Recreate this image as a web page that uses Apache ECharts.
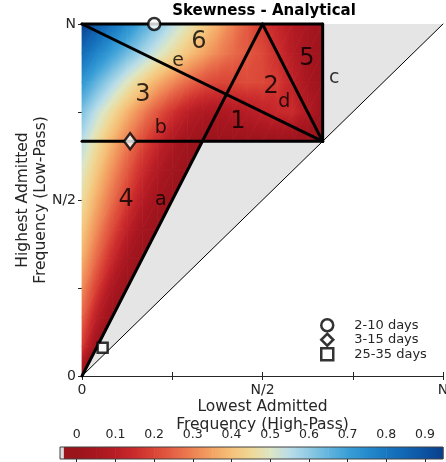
<!DOCTYPE html>
<html>
<head>
<meta charset="utf-8">
<script src="https://cdn.jsdelivr.net/npm/echarts@6/dist/echarts.min.js"></script>
<style>
  html, body { margin: 0; padding: 0; background: #fff; }
  #chart { width: 446px; height: 462px; }
</style>
</head>
<body>
<div id="chart"></div>
<script>
// Skewness sampled along rows of constant highest admitted frequency H (fraction of N).
// Entry k of a row sits at L = k/24. Rows from H = 2N/3 upward run L = 0 .. 2N/3;
// rows below 2N/3 stop on the H = 2L edge.
const skewH100 = [0.946, 0.88, 0.815, 0.75, 0.68, 0.615, 0.55, 0.49, 0.43, 0.37, 0.30, 0.235, 0.18, 0.13, 0.085, 0.045, 0.01];
const skewH092 = [0.83, 0.765, 0.70, 0.635, 0.575, 0.515, 0.46, 0.405, 0.355, 0.305, 0.265, 0.235, 0.205, 0.155, 0.095, 0.045, 0.01];
const skewH083 = [0.72, 0.645, 0.57, 0.495, 0.43, 0.365, 0.31, 0.26, 0.22, 0.20, 0.20, 0.21, 0.205, 0.18, 0.12, 0.05, 0.01];
const skewH075 = [0.62, 0.535, 0.455, 0.375, 0.30, 0.23, 0.165, 0.11, 0.075, 0.065, 0.077, 0.094, 0.118, 0.14, 0.145, 0.085, 0.01];
const skewH067 = [0.55, 0.46, 0.375, 0.29, 0.21, 0.14, 0.075, 0.025, 0, 0, 0.005, 0.005, 0.005, 0.005, 0.005, 0.005, 0];
const skewH058 = [0.50, 0.41, 0.32, 0.235, 0.15, 0.08, 0.025, 0];
const skewH050 = [0.46, 0.36, 0.27, 0.18, 0.095, 0.03, 0];
const skewH042 = [0.415, 0.31, 0.21, 0.115, 0.035, 0];
const skewH033 = [0.37, 0.255, 0.145, 0.048, 0];
const skewH025 = [0.315, 0.185, 0.065, 0];
const skewH017 = [0.255, 0.10, 0];
const skewH008 = [0.18, 0];
const skewH000 = [0];

const lowerRows = [skewH000, skewH008, skewH017, skewH025, skewH033, skewH042, skewH050, skewH058, skewH067];
const upperRows = [skewH067, skewH075, skewH083, skewH092, skewH100];
const colStep = 1 / 24;
const rowStep = 1 / 12;

// Region outlines (L1, H1, L2, H2) in fractions of N
const regionEdges = [
  [0, 0, 0.5, 1],            // a : H = 2L
  [0, 2 / 3, 2 / 3, 2 / 3],  // b
  [2 / 3, 2 / 3, 2 / 3, 1],  // c
  [0.5, 1, 2 / 3, 2 / 3],    // d
  [0, 1, 2 / 3, 2 / 3],      // e
  [0, 1, 2 / 3, 1]
];
const diagonalEdge = [[0, 0, 1, 1]];
const emptyRegion = [[0, 0], [1 / 3, 2 / 3], [2 / 3, 2 / 3], [2 / 3, 1], [1, 1]];

// Filter bands: [L, H]
const band2to10 = [[0.2, 1]];
const band3to15 = [[2 / 15, 2 / 3]];
const band25to35 = [[2 / 35, 0.08]];

const regionNumbers = [[0.324, 0.949, '6'], [0.169, 0.798, '3'], [0.432, 0.722, '1'], [0.524, 0.821, '2'], [0.623, 0.901, '5'], [0.122, 0.5, '4']];
const regionLetters = [[0.266, 0.895, 'e'], [0.218, 0.705, 'b'], [0.56, 0.778, 'd'], [0.699, 0.847, 'c'], [0.218, 0.5, 'a']];

const axisTickNames = ['0', '', 'N/2', '', 'N'];
const colorbarTicks = [0, 0.1, 0.2, 0.3, 0.4, 0.5, 0.6, 0.7, 0.8, 0.9];
const colorbarMin = -0.0432;
const colorbarMax = 0.9465;
const colorbarGrayEnd = -0.034;

const cmapStops = [
  [0.00, '#9b141c'], [0.05, '#a8161f'], [0.10, '#b81d25'], [0.15, '#cb2b2c'],
  [0.20, '#da4536'], [0.25, '#e56245'], [0.30, '#ee8354'], [0.35, '#f3a464'],
  [0.40, '#f5c27a'], [0.45, '#efd896'], [0.50, '#dde6c4'], [0.55, '#b9dde8'],
  [0.60, '#8fcae4'], [0.65, '#62b4de'], [0.70, '#3a9fd6'], [0.75, '#268bcd'],
  [0.80, '#1877c0'], [0.85, '#1165b2'], [0.90, '#0c52a1'], [0.95, '#083d87']
];

const FONT = 'DejaVu Sans';
const INK = '#262626';

function hexRgb(h) {
  return [parseInt(h.slice(1, 3), 16), parseInt(h.slice(3, 5), 16), parseInt(h.slice(5, 7), 16)];
}
const cmapRgb = cmapStops.map(s => [s[0], hexRgb(s[1])]);

function rgbStr(c) {
  return 'rgb(' + c.map(x => Math.round(x)).join(',') + ')';
}
function colorAt(v) {
  if (v <= cmapRgb[0][0]) return rgbStr(cmapRgb[0][1]);
  const last = cmapRgb[cmapRgb.length - 1];
  if (v >= last[0]) return rgbStr(last[1]);
  for (let i = 0; i < cmapRgb.length - 1; i++) {
    const a = cmapRgb[i], b = cmapRgb[i + 1];
    if (v <= b[0]) {
      const t = (v - a[0]) / (b[0] - a[0]);
      return rgbStr(a[1].map((c, j) => c + (b[1][j] - c) * t));
    }
  }
  return rgbStr(last[1]);
}

// Linear shading across one triangle: a global linear gradient along the value gradient.
function triangleFill(p, v) {
  const lo = Math.min(v[0], v[1], v[2]);
  const hi = Math.max(v[0], v[1], v[2]);
  const e1x = p[1][0] - p[0][0], e1y = p[1][1] - p[0][1];
  const e2x = p[2][0] - p[0][0], e2y = p[2][1] - p[0][1];
  const det = e1x * e2y - e1y * e2x;
  if (Math.abs(det) < 1e-9 || hi - lo < 1e-5) return colorAt((lo + hi) / 2);
  const d1 = v[1] - v[0], d2 = v[2] - v[0];
  const gx = (d1 * e2y - e1y * d2) / det;
  const gy = (e1x * d2 - e2x * d1) / det;
  const g2 = gx * gx + gy * gy;
  const ax = p[0][0] + (lo - v[0]) * gx / g2, ay = p[0][1] + (lo - v[0]) * gy / g2;
  const bx = p[0][0] + (hi - v[0]) * gx / g2, by = p[0][1] + (hi - v[0]) * gy / g2;
  const stops = [{ offset: 0, color: colorAt(lo) }];
  cmapStops.forEach(s => {
    if (s[0] > lo && s[0] < hi) stops.push({ offset: (s[0] - lo) / (hi - lo), color: colorAt(s[0]) });
  });
  stops.push({ offset: 1, color: colorAt(hi) });
  return { type: 'linear', x: ax, y: ay, x2: bx, y2: by, global: true, colorStops: stops };
}

function buildTriangles() {
  const tris = [];
  const node = (k, j, v) => [k * colStep, j * rowStep, v];
  for (let j = 0; j < 8; j++) {
    const b = lowerRows[j], t = lowerRows[j + 1];
    for (let k = 0; k < j; k++) {
      tris.push([...node(k, j, b[k]), ...node(k + 1, j, b[k + 1]), ...node(k + 1, j + 1, t[k + 1])]);
      tris.push([...node(k, j, b[k]), ...node(k + 1, j + 1, t[k + 1]), ...node(k, j + 1, t[k])]);
    }
    tris.push([...node(j, j, b[j]), ...node(j + 1, j + 1, t[j + 1]), ...node(j, j + 1, t[j])]);
  }
  for (let r = 0; r < upperRows.length - 1; r++) {
    const j = 8 + r, b = upperRows[r], t = upperRows[r + 1];
    for (let k = 0; k < b.length - 1; k++) {
      tris.push([...node(k, j, b[k]), ...node(k + 1, j, b[k + 1]), ...node(k + 1, j + 1, t[k + 1])]);
      tris.push([...node(k, j, b[k]), ...node(k + 1, j + 1, t[k + 1]), ...node(k, j + 1, t[k])]);
    }
  }
  return tris;
}

function buildColorbarPieces() {
  const pieces = [[colorbarGrayEnd, 0]];
  for (let i = 0; i < cmapStops.length - 1; i++) {
    pieces.push([cmapStops[i][0], Math.min(cmapStops[i + 1][0], colorbarMax)]);
  }
  return pieces;
}

function segmentRenderer(width) {
  return function (params, api) {
    const p1 = api.coord([api.value(0), api.value(1)]);
    const p2 = api.coord([api.value(2), api.value(3)]);
    return {
      type: 'line',
      shape: { x1: p1[0], y1: p1[1], x2: p2[0], y2: p2[1] },
      style: { stroke: '#000', lineWidth: width, lineCap: 'round' }
    };
  };
}

function tickName(v) {
  return axisTickNames[Math.round(v * 4)] || '';
}

const chart = echarts.init(document.getElementById('chart'), null, { renderer: 'canvas' });

const axisBase = {
  type: 'value', min: 0, max: 1, interval: 0.25,
  axisLine: { show: true, lineStyle: { color: INK, width: 1 } },
  axisTick: { show: true, inside: true, length: 4, lineStyle: { color: INK, width: 1 } },
  splitLine: { show: false }
};

const labelStyle = { color: INK, fontFamily: FONT, fontSize: 14 };
const nameStyle = { color: INK, fontFamily: FONT, fontSize: 15.5, lineHeight: 18 };

const scatterStyle = { color: '#fff', borderColor: '#000', borderWidth: 2.5 };

chart.setOption({
  animation: false,
  backgroundColor: '#fff',
  graphic: [{
    type: 'text', x: 264, y: 11,
    style: { text: 'Skewness - Analytical', align: 'center', verticalAlign: 'middle', font: 'bold 15px "DejaVu Sans"', fill: '#000' }
  }],
  grid: [
    { left: 82, top: 24, width: 361, height: 352, containLabel: false, outerBoundsMode: 'none' },
    { left: 60, top: 447, width: 383, height: 12, containLabel: false, outerBoundsMode: 'none' }
  ],
  xAxis: [
    Object.assign({}, axisBase, {
      gridIndex: 0, position: 'bottom',
      axisLabel: Object.assign({ formatter: tickName, margin: 7, showMinLabel: true, showMaxLabel: true }, labelStyle),
      name: 'Lowest Admitted\nFrequency (High-Pass)', nameLocation: 'middle', nameGap: 22,
      nameMoveOverlap: false,
      nameTextStyle: nameStyle
    }),
    Object.assign({}, axisBase, { gridIndex: 0, position: 'top', axisLabel: { show: false } }),
    {
      gridIndex: 1, type: 'value', min: colorbarMin, max: colorbarMax, position: 'top',
      axisLine: { show: false },
      axisTick: { show: true, inside: true, length: 3, customValues: colorbarTicks, lineStyle: { color: INK } },
      axisLabel: { customValues: colorbarTicks, formatter: v => String(v), color: INK, fontFamily: FONT, fontSize: 12.5, margin: 6 },
      splitLine: { show: false }
    }
  ],
  yAxis: [
    Object.assign({}, axisBase, {
      gridIndex: 0, position: 'left',
      axisLabel: Object.assign({ formatter: tickName, margin: 6, showMinLabel: true, showMaxLabel: true }, labelStyle),
      name: 'Highest Admitted\nFrequency (Low-Pass)', nameLocation: 'middle', nameGap: 32,
      nameMoveOverlap: false,
      nameTextStyle: nameStyle
    }),
    Object.assign({}, axisBase, { gridIndex: 0, position: 'right', axisLabel: { show: false } }),
    { gridIndex: 1, type: 'value', min: 0, max: 1, show: false }
  ],
  legend: {
    data: ['2-10 days', '3-15 days', '25-35 days'],
    orient: 'vertical', left: 320, top: 318, padding: 0,
    itemWidth: 12, itemHeight: 12, itemGap: 0,
    itemStyle: { color: '#fff', borderColor: '#000', borderWidth: 2.5 },
    textStyle: { color: INK, fontFamily: FONT, fontSize: 13, lineHeight: 12, height: 12, padding: [0, 0, 0, 16] }
  },
  series: [
    {
      type: 'custom', coordinateSystem: 'cartesian2d', xAxisIndex: 0, yAxisIndex: 0, silent: true, z: 1,
      data: buildTriangles(),
      renderItem(params, api) {
        const pts = [], vals = [];
        for (let i = 0; i < 3; i++) {
          pts.push(api.coord([api.value(3 * i), api.value(3 * i + 1)]));
          vals.push(api.value(3 * i + 2));
        }
        const fill = triangleFill(pts, vals);
        return { type: 'polygon', shape: { points: pts }, style: { fill: fill, stroke: fill, lineWidth: 0.8 } };
      }
    },
    {
      type: 'custom', coordinateSystem: 'cartesian2d', xAxisIndex: 0, yAxisIndex: 0, silent: true, z: 2,
      data: [0],
      renderItem(params, api) {
        return { type: 'polygon', shape: { points: emptyRegion.map(p => api.coord(p)) }, style: { fill: '#e5e5e5' } };
      }
    },
    {
      type: 'custom', coordinateSystem: 'cartesian2d', xAxisIndex: 0, yAxisIndex: 0, silent: true, z: 3,
      data: diagonalEdge, renderItem: segmentRenderer(1)
    },
    {
      type: 'custom', coordinateSystem: 'cartesian2d', xAxisIndex: 0, yAxisIndex: 0, silent: true, z: 4,
      data: regionEdges, renderItem: segmentRenderer(3)
    },
    {
      name: '2-10 days', type: 'scatter', xAxisIndex: 0, yAxisIndex: 0, z: 6, clip: false,
      symbol: 'circle', symbolSize: 12, itemStyle: scatterStyle, data: band2to10
    },
    {
      name: '3-15 days', type: 'scatter', xAxisIndex: 0, yAxisIndex: 0, z: 6, clip: false,
      symbol: 'diamond', symbolSize: [12, 16], itemStyle: scatterStyle, data: band3to15
    },
    {
      name: '25-35 days', type: 'scatter', xAxisIndex: 0, yAxisIndex: 0, z: 6, clip: false,
      symbol: 'rect', symbolSize: 10, itemStyle: scatterStyle, data: band25to35
    },
    {
      type: 'scatter', xAxisIndex: 0, yAxisIndex: 0, z: 7, silent: true, symbolSize: 0,
      data: regionNumbers,
      label: { show: true, position: 'inside', formatter: p => p.value[2], color: '#000', fontFamily: FONT, fontSize: 24 }
    },
    {
      type: 'scatter', xAxisIndex: 0, yAxisIndex: 0, z: 7, silent: true, symbolSize: 0,
      data: regionLetters,
      label: { show: true, position: 'inside', formatter: p => p.value[2], color: '#000', fontFamily: FONT, fontSize: 19 }
    },
    {
      type: 'custom', coordinateSystem: 'cartesian2d', xAxisIndex: 2, yAxisIndex: 2, silent: true, z: 1,
      data: buildColorbarPieces(),
      renderItem(params, api) {
        const v0 = api.value(0), v1 = api.value(1);
        const a = api.coord([v0, 1]), b = api.coord([v1, 0]);
        return {
          type: 'rect',
          shape: { x: a[0], y: a[1], width: b[0] - a[0] + 0.5, height: b[1] - a[1] },
          style: { fill: { type: 'linear', x: 0, y: 0, x2: 1, y2: 0, colorStops: [{ offset: 0, color: colorAt(v0) }, { offset: 1, color: colorAt(v1) }] } }
        };
      }
    },
    {
      type: 'custom', coordinateSystem: 'cartesian2d', xAxisIndex: 2, yAxisIndex: 2, silent: true, z: 2,
      data: [[colorbarMin, colorbarGrayEnd]],
      renderItem(params, api) {
        const a = api.coord([api.value(0), 1]), b = api.coord([api.value(1), 0]);
        const c = api.coord([colorbarMax, 0]);
        return {
          type: 'group',
          children: [
            { type: 'rect', shape: { x: a[0], y: a[1], width: b[0] - a[0], height: b[1] - a[1] }, style: { fill: '#dedede' } },
            { type: 'rect', shape: { x: a[0], y: a[1], width: c[0] - a[0], height: c[1] - a[1] }, style: { fill: null, stroke: '#404040', lineWidth: 1 } }
          ]
        };
      }
    }
  ]
});
</script>
</body>
</html>
